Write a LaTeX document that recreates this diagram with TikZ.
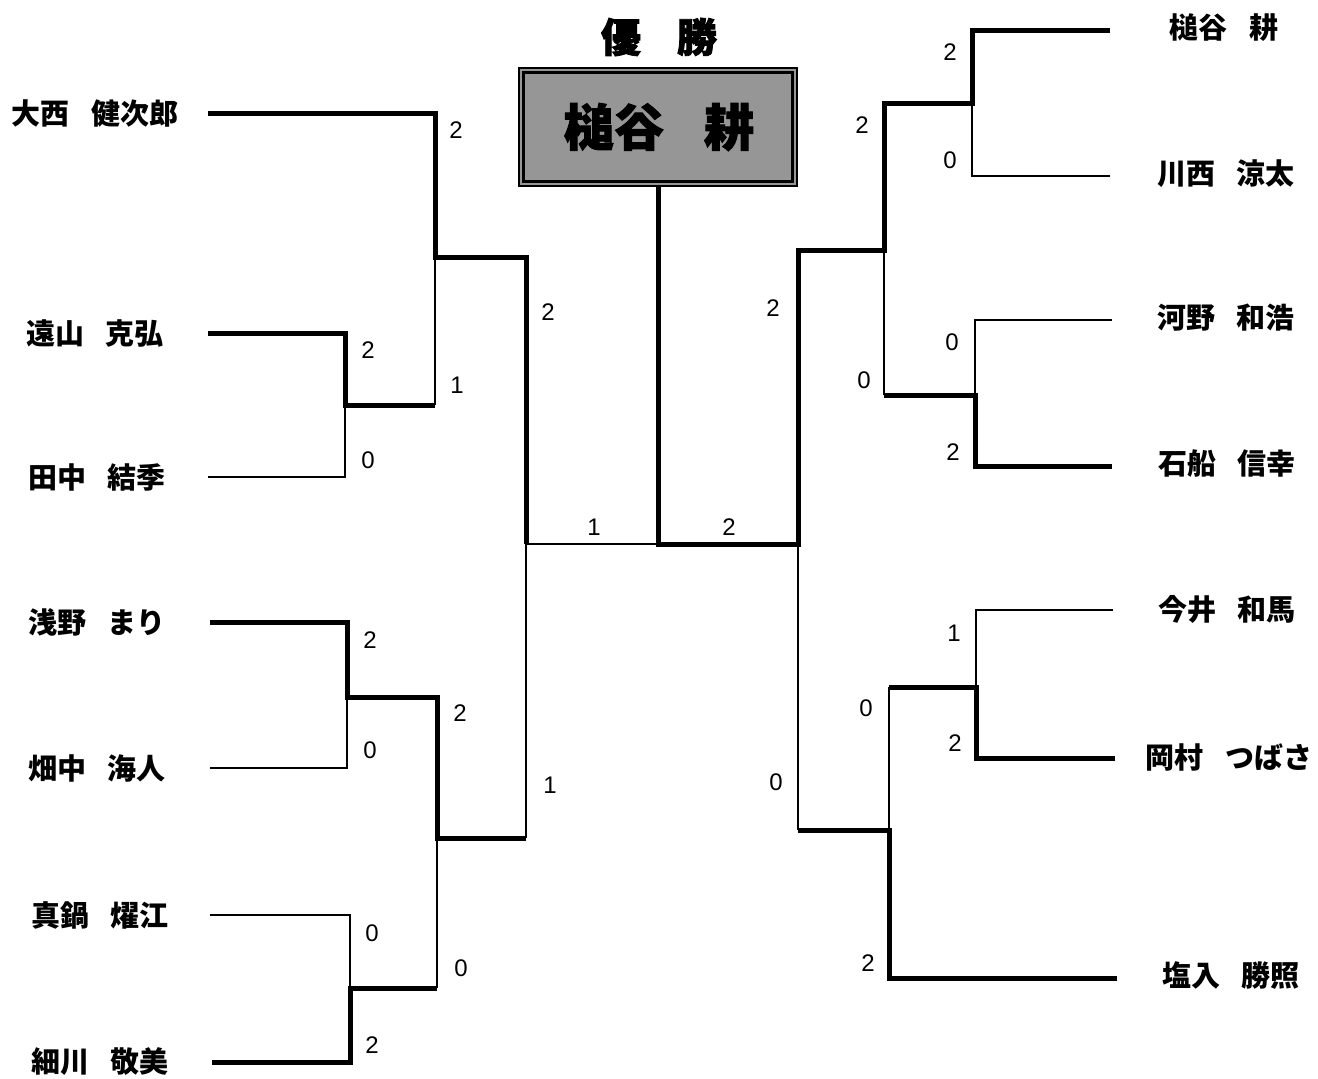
\documentclass[tikz,border=0pt]{standalone}
\usepackage{fontspec}
\newfontfamily\cjk{Noto Sans CJK JP}
\newfontfamily\cjkheavy{Noto Sans CJK JP}[BoldFeatures={FakeBold=2}]
\newfontfamily\numfont{Liberation Sans}
\definecolor{boxgray}{RGB}{150,150,150}
\newcommand{\gp}{\hspace{0.75em}}
\tikzset{
  win/.style={line width=5pt, line join=miter},
  lose/.style={line width=1.4pt},
  pname/.style={inner sep=0pt, font=\cjk\bfseries\fontsize{29}{29}\selectfont},
  score/.style={inner sep=0pt, font=\numfont\fontsize{24}{24}\selectfont},
}
\begin{document}
\begin{tikzpicture}[x=1pt,y=-1pt]
\useasboundingbox (0,0) rectangle (1318,1079);
\fill[white] (0,0) rectangle (1318,1079);

% ---------- champion box ----------
\node[inner sep=0pt, font=\cjkheavy\bfseries\fontsize{40}{40}\selectfont] (title) at (659,37) {優\hspace{0.9em}勝};
\node[draw, line width=1.2pt, fill=boxgray, minimum width=278pt, minimum height=118pt, inner sep=0pt] (champ) at (658,127) {};
\draw[line width=3pt] ([xshift=5pt,yshift=-5pt]champ.north west) rectangle ([xshift=-5pt,yshift=5pt]champ.south east);
\node[inner sep=0pt, font=\cjkheavy\bfseries\fontsize{50}{50}\selectfont] (champname) at (659,127) {槌谷\hspace{0.8em}耕};

% ---------- names ----------
\node[pname] (L1) at (95,113) {大西\gp 健次郎};
\node[pname] (L2) at (95,333) {遠山\gp 克弘};
\node[pname] (L3) at (97,477) {田中\gp 結季};
\node[pname] (L4) at (97,622) {浅野\gp まり};
\node[pname] (L5) at (97,768) {畑中\gp 海人};
\node[pname] (L6) at (100,915) {真鍋\gp 燿江};
\node[pname] (L7) at (100,1062) {細川\gp 敬美};
\node[pname] (R1) at (1224,28) {槌谷\gp 耕};
\node[pname] (R2) at (1226,174) {川西\gp 涼太};
\node[pname] (R3) at (1226,318) {河野\gp 和浩};
\node[pname] (R4) at (1227,464) {石船\gp 信幸};
\node[pname] (R5) at (1227,609) {今井\gp 和馬};
\node[pname] (R6) at (1229,757) {岡村\gp つばさ};
\node[pname] (R7) at (1231,975) {塩入\gp 勝照};

% ---------- line ends ----------
\coordinate (l1) at (208,113);
\coordinate (l2) at (208,333);
\coordinate (l3) at (208,477);
\coordinate (l4) at (210,622);
\coordinate (l5) at (210,768);
\coordinate (l6) at (210,915);
\coordinate (l7) at (212,1062);
\coordinate (r1) at (1110,30);
\coordinate (r2) at (1110,176);
\coordinate (r3) at (1112,320);
\coordinate (r4) at (1112,466);
\coordinate (r5) at (1113,610);
\coordinate (r6) at (1115,758);
\coordinate (r7) at (1117,978);

% junctions
\coordinate (ja) at (345,405);
\coordinate (jb) at (435,257);
\coordinate (jc) at (347,697);
\coordinate (jd) at (350,988);
\coordinate (je) at (437,838);
\coordinate (jf) at (526,544);
\coordinate (jg) at (972,103);
\coordinate (jh) at (975,395);
\coordinate (ji) at (884,250);
\coordinate (jj) at (976,687);
\coordinate (jk) at (889,830);
\coordinate (jl) at (798,544);
\coordinate (jm) at (658,544);

% ---------- left half ----------
\draw[win] (l1) -| (jb) -- (jb -| jf) -- (jf);
\draw[win] (l2) -| (ja) -- (ja -| jb);
\draw[lose] (l3) -| (ja);
\draw[lose] (ja -| jb) -- (jb);
\draw[win] (l4) -| (jc) -- (jc -| je) -- (je) -- (je -| jf);
\draw[lose] (l5) -| (jc);
\draw[lose] (l6) -| (jd);
\draw[win] (l7) -| (jd) -- (jd -| je);
\draw[lose] (jd -| je) -- (je);
\draw[lose] (je -| jf) -- (jf) -- (jm);

% ---------- right half ----------
\draw[win] (r1) -| (jg) -- (jg -| ji) -- (ji) -- (ji -| jl) -- (jl) -- (jm) -- (champ.south);
\draw[lose] (r2) -| (jg);
\draw[lose] (r3) -| (jh);
\draw[win] (r4) -| (jh) -- (jh -| ji);
\draw[lose] (jh -| ji) -- (ji);
\draw[lose] (r5) -| (jj);
\draw[win] (r6) -| (jj) -- (jj -| jk);
\draw[lose] (jj -| jk) -- (jk);
\draw[win] (r7) -| (jk) -- (jk -| jl);
\draw[lose] (jk -| jl) -- (jl);

% ---------- scores ----------
\node[score] (s1) at (456,130) {2};
\node[score] (s2) at (368,350) {2};
\node[score] (s3) at (368,460) {0};
\node[score] (s4) at (457,385) {1};
\node[score] (s5) at (548,312) {2};
\node[score] (s6) at (370,640) {2};
\node[score] (s7) at (370,750) {0};
\node[score] (s8) at (460,713) {2};
\node[score] (s9) at (372,933) {0};
\node[score] (s10) at (372,1045) {2};
\node[score] (s11) at (461,968) {0};
\node[score] (s12) at (550,785) {1};
\node[score] (s13) at (594,527) {1};
\node[score] (s14) at (729,527) {2};
\node[score] (t1) at (950,52) {2};
\node[score] (t2) at (950,160) {0};
\node[score] (t3) at (862,125) {2};
\node[score] (t4) at (952,342) {0};
\node[score] (t5) at (953,452) {2};
\node[score] (t6) at (864,380) {0};
\node[score] (t7) at (773,308) {2};
\node[score] (t8) at (954,633) {1};
\node[score] (t9) at (955,743) {2};
\node[score] (t10) at (866,708) {0};
\node[score] (t11) at (868,963) {2};
\node[score] (t12) at (776,782) {0};
\end{tikzpicture}
\end{document}
